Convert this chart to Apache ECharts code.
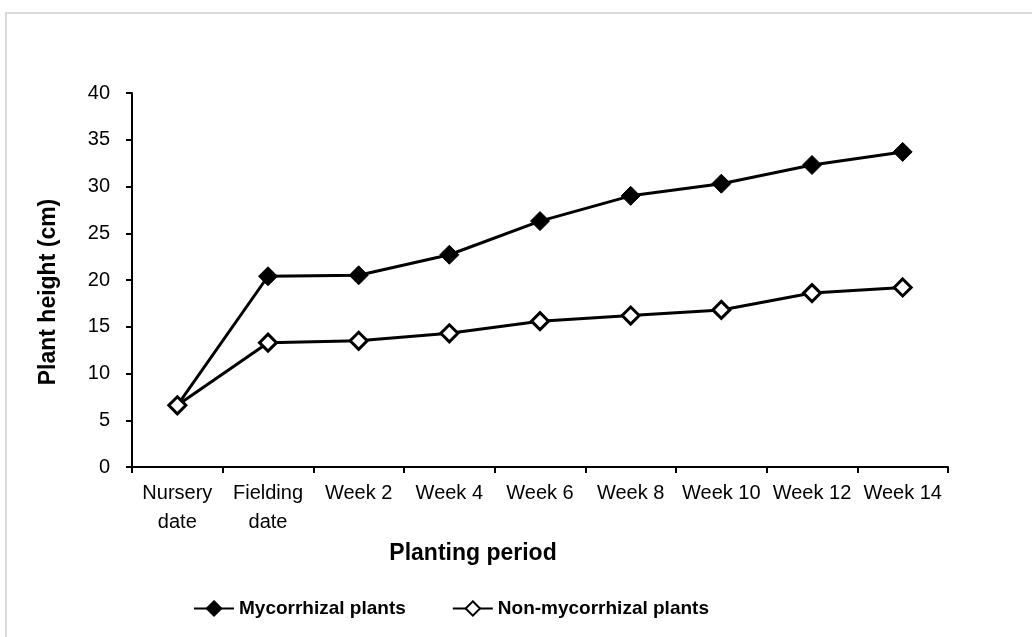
<!doctype html>
<html>
<head>
<meta charset="UTF-8">
<script src="https://cdn.jsdelivr.net/npm/echarts@6/dist/echarts.min.js"></script>
<style>
  html, body { margin: 0; padding: 0; background: #fff; }
  #main { width: 1032px; height: 637px; }
</style>
</head>
<body>
<div id="main"></div>
<script type="text/javascript">
    // categories and values
    var periods = ['Nursery\ndate', 'Fielding\ndate', 'Week 2', 'Week 4', 'Week 6', 'Week 8', 'Week 10', 'Week 12', 'Week 14'];
    var mycorrhizal = [6.6, 20.4, 20.5, 22.7, 26.3, 29.0, 30.3, 32.3, 33.7];
    var nonMycorrhizal = [6.6, 13.3, 13.5, 14.3, 15.6, 16.2, 16.8, 18.6, 19.2];

    var font = '"Liberation Sans", Arial, sans-serif';
    var myChart = echarts.init(document.getElementById('main'));

    var option = {
        backgroundColor: '#fff',
        animation: false,
        textStyle: { fontFamily: font, color: '#000' },
        graphic: [{
            type: 'rect',
            shape: { x: 6, y: 13, width: 1040, height: 640 },
            style: { fill: 'none', stroke: '#d9d9d9', lineWidth: 2 },
            silent: true
        }],
        grid: { left: 132, right: 84, top: 93, bottom: 170 },
        legend: {
            bottom: 14,
            left: 188,
            itemGap: 46,
            itemWidth: 40,
            itemHeight: 18,
            textStyle: { fontFamily: font, fontWeight: 'bold', fontSize: 19, color: '#000' },
            data: ['Mycorrhizal plants', 'Non-mycorrhizal plants']
        },
        xAxis: {
            type: 'category',
            data: periods,
            name: 'Planting period',
            nameLocation: 'middle',
            nameGap: 68,
            nameTextStyle: { fontFamily: font, fontWeight: 'bold', fontSize: 23, color: '#000', padding: [0, 134, 0, 0] },
            axisLine: { lineStyle: { color: '#000', width: 2 } },
            axisTick: { show: true, length: 6, lineStyle: { color: '#000', width: 2 } },
            axisLabel: { color: '#000', fontSize: 20, margin: 12, lineHeight: 29, interval: 0 }
        },
        yAxis: {
            type: 'value',
            min: 0,
            max: 40,
            interval: 5,
            name: 'Plant height (cm)',
            nameLocation: 'middle',
            nameGap: 72,
            nameRotate: 90,
            nameTextStyle: { fontFamily: font, fontWeight: 'bold', fontSize: 23, color: '#000', padding: [0, 24, 0, 0] },
            splitLine: { show: false },
            axisLine: { show: true, lineStyle: { color: '#000', width: 2 } },
            axisTick: { show: true, length: 6, lineStyle: { color: '#000', width: 2 } },
            axisLabel: { color: '#000', fontSize: 20, margin: 22 }
        },
        series: [{
            name: 'Mycorrhizal plants',
            type: 'line',
            data: mycorrhizal,
            symbol: 'diamond',
            symbolSize: 19,
            lineStyle: { color: '#000', width: 3 },
            itemStyle: { color: '#000', borderColor: '#000', borderWidth: 1 }
        }, {
            name: 'Non-mycorrhizal plants',
            type: 'line',
            data: nonMycorrhizal,
            symbol: 'diamond',
            symbolSize: 17,
            lineStyle: { color: '#000', width: 3 },
            itemStyle: { color: '#fff', borderColor: '#000', borderWidth: 3 }
        }]
    };

    myChart.setOption(option);
</script>
</body>
</html>
